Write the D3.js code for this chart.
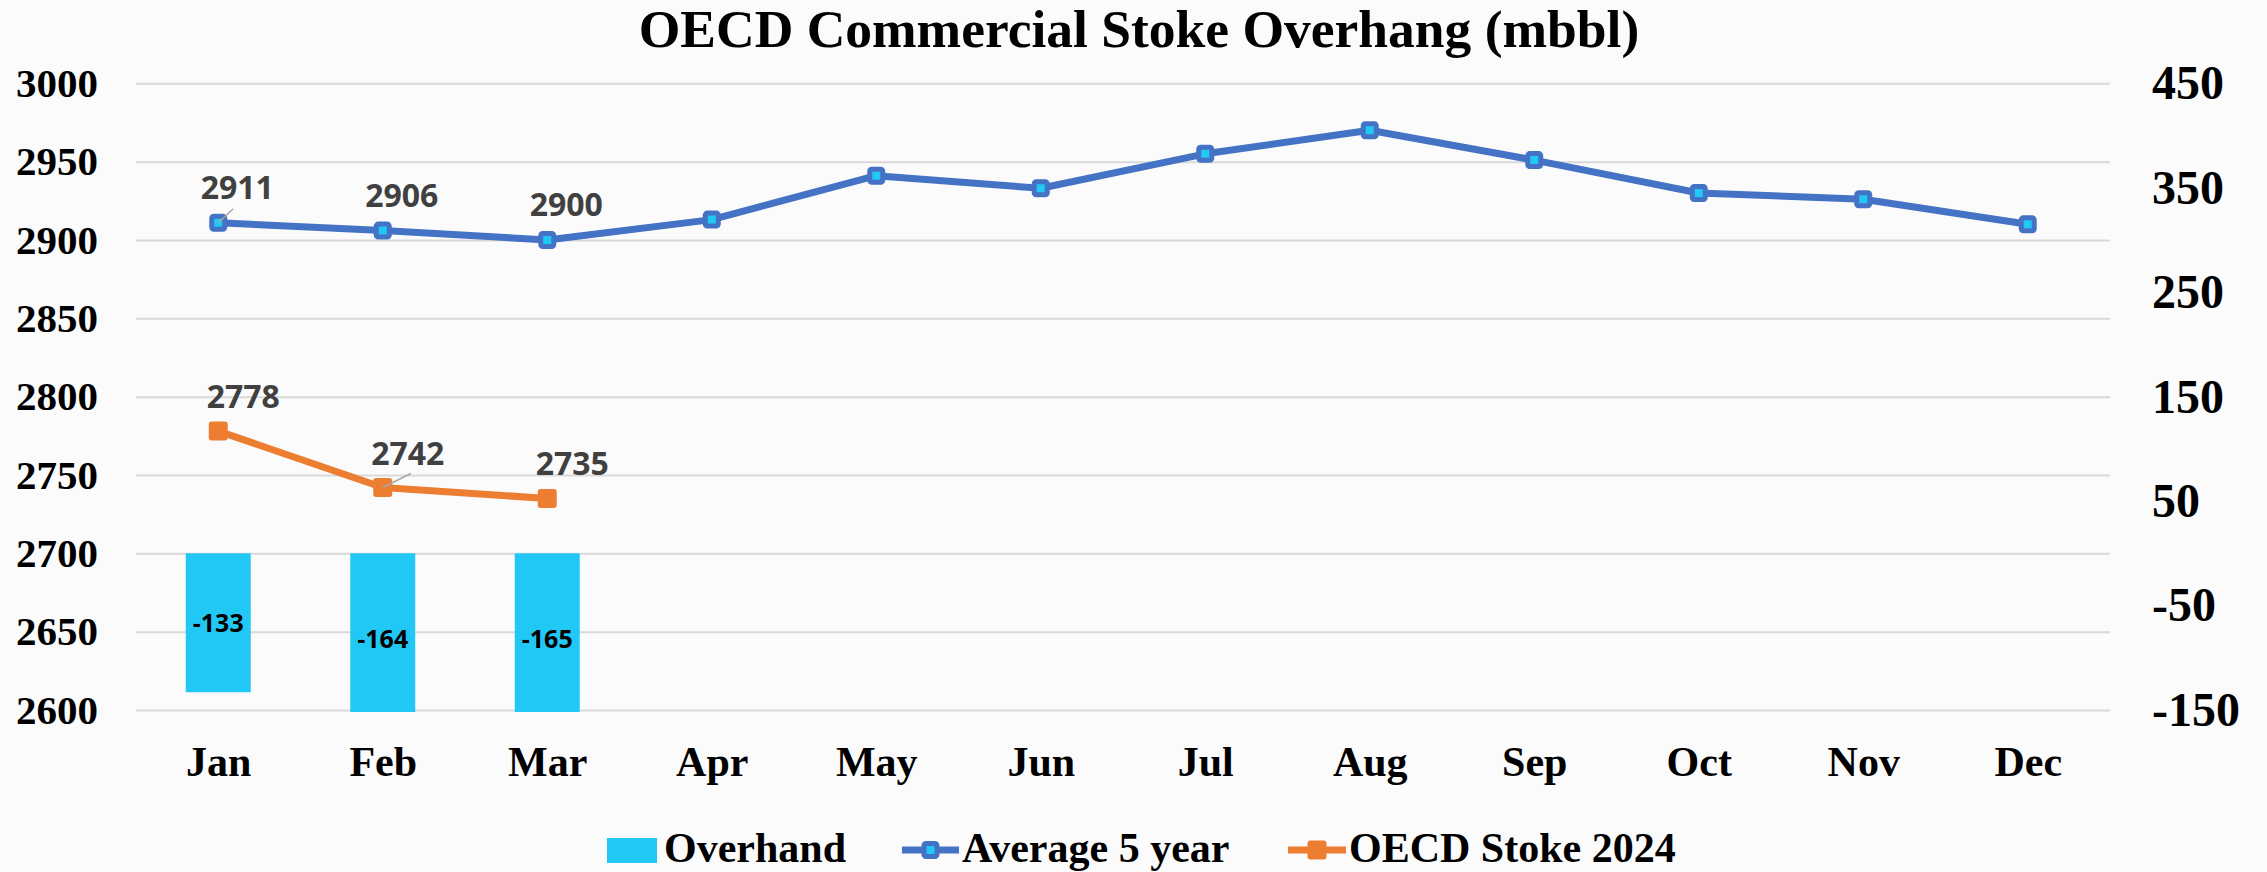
<!DOCTYPE html>
<html>
<head>
<meta charset="utf-8">
<script src="https://cdn.jsdelivr.net/npm/d3@7"></script>
<style>
  body { margin: 0; background: #fbfbfb; }
  svg { display: block; }
  .serif { font-family: "Liberation Serif", "Times New Roman", serif; font-weight: bold; }
  .lbl { font-family: "Open Sans", "Liberation Sans", sans-serif; font-weight: bold; }
</style>
</head>
<body>
<script>
// chart data
var months = ['Jan','Feb','Mar','Apr','May','Jun','Jul','Aug','Sep','Oct','Nov','Dec'];
var overhang = [-133, -164, -165];
var avg5 = [2911, 2906, 2900, 2913, 2941, 2933, 2955, 2970, 2951, 2930, 2926, 2910];
var stock2024 = [2778, 2742, 2735];
var leftTicks = [2600, 2650, 2700, 2750, 2800, 2850, 2900, 2950, 3000];
var rightTicks = [-150, -50, 50, 150, 250, 350, 450];
var title = 'OECD Commercial Stoke Overhang (mbbl)';
var seriesNames = ['Overhand', 'Average 5 year', 'OECD Stoke 2024'];

var width = 2267, height = 872;
var margin = {top: 83.3, bottom: 162, left: 136, right: 157};
var chartW = width - margin.left - margin.right;
var chartH = height - margin.top - margin.bottom;

var blue = '#4472C4', orange = '#ED7D31', cyan = '#22C8F5';

var svg = d3.select('body').append('svg')
  .attr('width', width)
  .attr('height', height);

svg.append('rect').attr('width', width).attr('height', height).attr('fill', '#fbfbfb');

// title
svg.append('text')
  .attr('class', 'serif')
  .attr('x', 1139)
  .attr('y', 47)
  .attr('text-anchor', 'middle')
  .style('font-size', '53.5px')
  .text(title);

var chart = svg.append('g')
  .attr('transform', 'translate(' + margin.left + ',' + margin.top + ')');

var yLeft = d3.scaleLinear().domain([2600, 3000]).range([chartH, 0]);
var yRight = d3.scaleLinear().domain([-150, 450]).range([chartH, 0]);
var xBand = d3.scaleBand().domain(months).range([0, chartW]).paddingInner(0.605).paddingOuter(0.3025);
var xPt = d3.scalePoint().domain(months).range([0, chartW]).padding(0.5);

// plain hyphen, like the original
var fmt = function(d){ return String(d); };

// gridlines + left axis
var leftAxis = d3.axisLeft(yLeft).tickValues(leftTicks).tickSize(-chartW).tickPadding(38).tickFormat(fmt);
var gl = chart.append('g').call(leftAxis);
gl.select('.domain').remove();
gl.selectAll('.tick line').attr('stroke', '#d9d9d9').attr('stroke-width', 2);
gl.selectAll('.tick text').attr('class', 'serif').style('font-size', '41px').attr('fill', '#000');

// right axis
var rightAxis = d3.axisRight(yRight).tickValues(rightTicks).tickSize(0).tickPadding(42).tickFormat(fmt);
var gr = chart.append('g').attr('transform', 'translate(' + chartW + ',0)').call(rightAxis);
gr.select('.domain').remove();
gr.selectAll('.tick text').attr('class', 'serif').style('font-size', '48px').attr('fill', '#000');

// bottom axis
var bottomAxis = d3.axisBottom(xPt).tickSize(0).tickPadding(36);
var gb = chart.append('g').attr('transform', 'translate(0,' + chartH + ')').call(bottomAxis);
gb.select('.domain').remove();
gb.selectAll('.tick text').attr('class', 'serif').style('font-size', '42px').attr('fill', '#000');

// clip for bars
chart.append('clipPath').attr('id', 'plotClip')
  .append('rect').attr('x', 0).attr('y', 0).attr('width', chartW).attr('height', chartH + 2);

// bars (right axis)
var barData = overhang.map(function(v, i){ return {m: months[i], v: v}; });
chart.append('g').attr('clip-path', 'url(#plotClip)')
  .selectAll('rect')
  .data(barData)
  .enter()
  .append('rect')
  .attr('x', function(d){ return xBand(d.m); })
  .attr('y', function(d){ return yRight(Math.max(0, d.v)); })
  .attr('width', xBand.bandwidth())
  .attr('height', function(d){ return Math.abs(yRight(d.v) - yRight(0)); })
  .attr('fill', cyan);

chart.selectAll('.barlbl')
  .data(barData)
  .enter()
  .append('text')
  .attr('class', 'lbl barlbl')
  .attr('x', function(d){ return xPt(d.m); })
  .attr('y', function(d){ return (yRight(0) + yRight(d.v)) / 2; })
  .attr('dy', '0.35em')
  .attr('text-anchor', 'middle')
  .style('font-size', '25px')
  .attr('fill', '#000')
  .text(function(d){ return d.v; });

// lines
var line = d3.line()
  .x(function(d){ return xPt(d.m); })
  .y(function(d){ return yLeft(d.v); });

var avgData = avg5.map(function(v, i){ return {m: months[i], v: v}; });
var stockData = stock2024.map(function(v, i){ return {m: months[i], v: v}; });

chart.append('path').datum(avgData)
  .attr('d', line).attr('fill', 'none')
  .attr('stroke', blue).attr('stroke-width', 7).attr('stroke-linejoin', 'round');

chart.selectAll('.avgpt')
  .data(avgData)
  .enter()
  .append('rect')
  .attr('class', 'avgpt')
  .attr('x', function(d){ return xPt(d.m) - 6.5; })
  .attr('y', function(d){ return yLeft(d.v) - 6.5; })
  .attr('width', 13).attr('height', 13).attr('rx', 2)
  .attr('fill', cyan).attr('stroke', blue).attr('stroke-width', 5);

chart.append('path').datum(stockData)
  .attr('d', line).attr('fill', 'none')
  .attr('stroke', orange).attr('stroke-width', 7).attr('stroke-linejoin', 'round');

chart.selectAll('.stockpt')
  .data(stockData)
  .enter()
  .append('rect')
  .attr('class', 'stockpt')
  .attr('x', function(d){ return xPt(d.m) - 9.5; })
  .attr('y', function(d){ return yLeft(d.v) - 9.5; })
  .attr('width', 19).attr('height', 19).attr('rx', 3)
  .attr('fill', orange);

// leader lines
chart.append('line')
  .attr('x1', xPt('Jan')).attr('y1', yLeft(avg5[0]))
  .attr('x2', xPt('Jan') + 15).attr('y2', yLeft(avg5[0]) - 14)
  .attr('stroke', '#a6a6a6').attr('stroke-width', 1.5);
chart.append('line')
  .attr('x1', xPt('Feb')).attr('y1', yLeft(stock2024[1]))
  .attr('x2', xPt('Feb') + 28).attr('y2', yLeft(stock2024[1]) - 14)
  .attr('stroke', '#a6a6a6').attr('stroke-width', 1.5);

// data labels for first quarter
chart.selectAll('.avglbl')
  .data(avgData.slice(0, 3))
  .enter()
  .append('text')
  .attr('class', 'lbl avglbl')
  .attr('x', function(d){ return xPt(d.m) + 19; })
  .attr('y', function(d){ return yLeft(d.v) - 24; })
  .attr('text-anchor', 'middle')
  .style('font-size', '32px')
  .attr('fill', '#404040')
  .text(function(d){ return d.v; });

chart.selectAll('.stocklbl')
  .data(stockData)
  .enter()
  .append('text')
  .attr('class', 'lbl stocklbl')
  .attr('x', function(d){ return xPt(d.m) + 25; })
  .attr('y', function(d){ return yLeft(d.v) - 23; })
  .attr('text-anchor', 'middle')
  .style('font-size', '32px')
  .attr('fill', '#404040')
  .text(function(d){ return d.v; });

// legend
var legend = svg.append('g');
var legY = 850;

legend.append('rect').attr('x', 607).attr('y', legY - 12).attr('width', 50).attr('height', 25).attr('fill', cyan);
legend.append('text').attr('class', 'serif').attr('x', 664).attr('y', legY + 12)
  .style('font-size', '42px').text(seriesNames[0]);

legend.append('line').attr('x1', 902).attr('x2', 959).attr('y1', legY).attr('y2', legY)
  .attr('stroke', blue).attr('stroke-width', 7);
legend.append('rect').attr('x', 924).attr('y', legY - 6.5).attr('width', 13).attr('height', 13).attr('rx', 2)
  .attr('fill', cyan).attr('stroke', blue).attr('stroke-width', 5);
legend.append('text').attr('class', 'serif').attr('x', 962).attr('y', legY + 12)
  .style('font-size', '42px').text(seriesNames[1]);

legend.append('line').attr('x1', 1288).attr('x2', 1346).attr('y1', legY).attr('y2', legY)
  .attr('stroke', orange).attr('stroke-width', 7);
legend.append('rect').attr('x', 1307.5).attr('y', legY - 9.5).attr('width', 19).attr('height', 19).attr('rx', 3)
  .attr('fill', orange);
legend.append('text').attr('class', 'serif').attr('x', 1349).attr('y', legY + 12)
  .style('font-size', '42px').text(seriesNames[2]);
</script>
</body>
</html>
